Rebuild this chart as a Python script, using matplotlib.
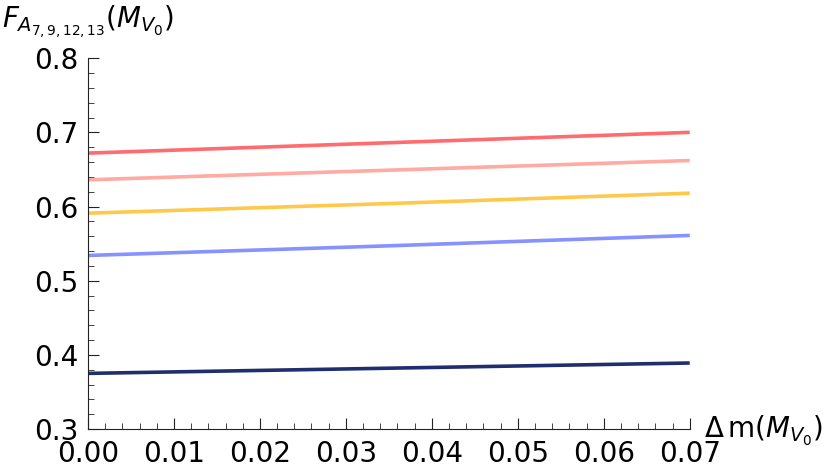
import matplotlib
matplotlib.use("Agg")
import matplotlib.pyplot as plt
from matplotlib.ticker import MultipleLocator

# mass splitting (in units of M_V0)
dm = [0.0, 0.035, 0.07]

# form factor curves
f_red = [0.672, 0.686, 0.700]
f_pink = [0.636, 0.649, 0.662]
f_yellow = [0.591, 0.604, 0.618]
f_blue = [0.534, 0.547, 0.561]
f_navy = [0.375, 0.382, 0.389]

colors = ["#ff6b6e", "#ffaaa2", "#ffc84a", "#8592ff", "#1f2e6e"]

fig = plt.figure(figsize=(8.3, 4.73), dpi=100)
ax = fig.add_axes([0.106, 0.093, 0.725, 0.784])

for ys, c in zip([f_red, f_pink, f_yellow, f_blue, f_navy], colors):
    ax.plot(dm, ys, c=c, lw=2.6, solid_capstyle="butt")

ax.set_xlim(0, 0.07)
ax.set_ylim(0.3, 0.8)
ax.spines["top"].set_visible(False)
ax.spines["right"].set_visible(False)
ax.spines["left"].set_color("#222222")
ax.spines["bottom"].set_color("#222222")

ax.xaxis.set_major_locator(MultipleLocator(0.01))
ax.xaxis.set_minor_locator(MultipleLocator(0.002))
ax.yaxis.set_major_locator(MultipleLocator(0.1))
ax.yaxis.set_minor_locator(MultipleLocator(0.02))
ax.xaxis.set_major_formatter(lambda v, pos: "%.2f" % v)
ax.tick_params(which="both", direction="in", color="#222222")
ax.tick_params(which="major", length=8)
ax.tick_params(which="minor", length=4)
ax.tick_params(axis="y", labelsize=20, pad=7)
ax.tick_params(axis="x", labelsize=20, pad=8)

fig.text(0.002, 0.955, r"$F_{A_{7,9,12,13}}(M_{V_0})$", fontsize=20, va="center")
fig.text(0.848, 0.088, r"$\Delta\,\mathrm{m}(M_{V_0})$", fontsize=20, va="center")

plt.savefig("out.png", dpi=100)
